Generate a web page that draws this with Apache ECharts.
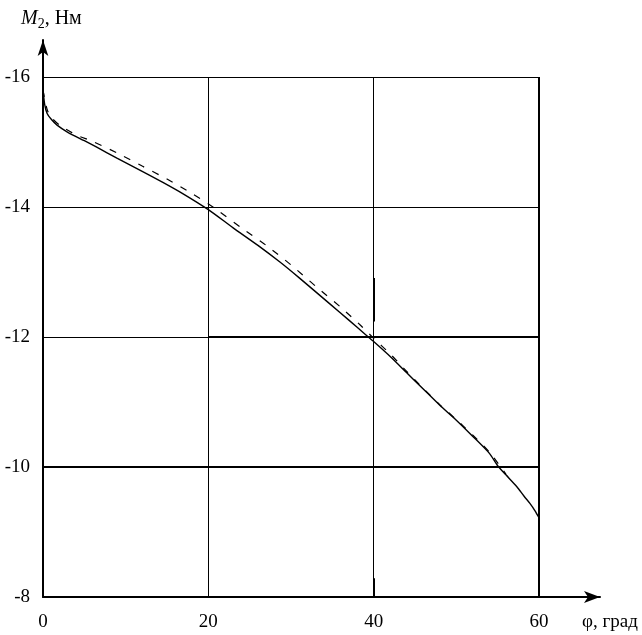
<!DOCTYPE html>
<html>
<head>
<meta charset="utf-8">
<script src="https://cdn.jsdelivr.net/npm/echarts@6/dist/echarts.min.js"></script>
<style>
  html, body { margin: 0; padding: 0; background: #fff; }
  #chart { width: 642px; height: 635px; }
</style>
</head>
<body>
<div id="chart"></div>
<script>
// measured curve (solid)
const solidX = [0, 0.2, 0.5, 1, 1.7, 3, 5, 6.5, 9, 12, 14.5, 17, 20, 23, 26, 28.7, 31, 34.7, 37, 39, 40, 42, 44, 46, 48, 50, 52, 54, 55, 56, 57.3, 58.2, 58.9, 59.5, 60];
const solidY = [-15.82, -15.58, -15.44, -15.35, -15.26, -15.15, -15.02, -14.92, -14.75, -14.55, -14.38, -14.2, -13.96, -13.68, -13.41, -13.15, -12.91, -12.51, -12.26, -12.04, -11.93, -11.7, -11.45, -11.2, -10.95, -10.72, -10.47, -10.21, -10.02, -9.88, -9.7, -9.55, -9.44, -9.33, -9.22];

// calculated curve (dashed)
const dashX = [0, 0.5, 1, 2, 4, 6, 9, 12, 15, 18, 21, 24, 27, 30, 33, 36, 38.5, 40, 42, 44, 46, 48, 50, 52, 54, 56];
const dashY = [-15.8, -15.5, -15.38, -15.26, -15.11, -15.01, -14.83, -14.63, -14.43, -14.21, -13.96, -13.68, -13.41, -13.11, -12.78, -12.46, -12.17, -11.98, -11.74, -11.47, -11.21, -10.96, -10.73, -10.49, -10.23, -9.89];

const xTicks = [0, 20, 40, 60];
const yTicks = [-16, -14, -12, -10, -8];

const font = 'Liberation Serif';

const chart = echarts.init(document.getElementById('chart'));

const thin = { color: '#000', width: 1, type: 'solid' };
const thick = { color: '#000', width: 2, type: 'solid' };
const seg = (x1, y1, x2, y2, style) => [{ coord: [x1, y1], lineStyle: style }, { coord: [x2, y2] }];

const gridLines = [
  seg(0, -16, 60, -16, thin),
  seg(0, -14, 60, -14, thin),
  seg(0, -12, 20, -12, thin),
  seg(20, -12, 60, -12, thick),
  seg(0, -10, 60, -10, thick),
  seg(20, -8, 20, -16, thin),
  seg(40, -8, 40, -16, thin),
  seg(60, -8, 60, -16, thick),
  seg(40, -12.91, 40, -12.24, thick),
  seg(40, -8.29, 40, -8, thick)
];

const option = {
  animation: false,
  backgroundColor: '#fff',
  title: [
    {
      text: '{i|M}{s|2}{n|, Нм}',
      left: 16, top: 2,
      textStyle: {
        fontWeight: 'normal',
        rich: {
          i: { fontFamily: font, fontStyle: 'italic', fontWeight: 'normal', fontSize: 20, color: '#000', lineHeight: 24 },
          s: { fontFamily: font, fontWeight: 'normal', fontSize: 14, color: '#000', lineHeight: 24, padding: [10, 0, 0, 0] },
          n: { fontFamily: font, fontWeight: 'normal', fontSize: 20, color: '#000', lineHeight: 24 }
        }
      }
    },
    {
      text: 'φ, град',
      left: 577, top: 608,
      textStyle: { fontFamily: font, fontSize: 19, fontWeight: 'normal', color: '#000' }
    }
  ],
  grid: { left: 43, right: 42, top: 40, bottom: 38, containLabel: false },
  xAxis: {
    type: 'value',
    min: 0,
    max: 67.38,
    splitLine: { show: false },
    axisTick: { show: false },
    axisLine: {
      onZero: false,
      symbol: ['none', 'arrow'],
      symbolSize: [9, 16],
      lineStyle: { color: '#000', width: 2 }
    },
    axisLabel: {
      customValues: xTicks,
      margin: 16,
      fontFamily: font,
      fontSize: 19,
      color: '#000'
    }
  },
  yAxis: {
    type: 'value',
    inverse: true,
    min: -16.57,
    max: -8,
    splitLine: { show: false },
    axisTick: { show: false },
    axisLine: {
      onZero: false,
      symbol: ['none', 'arrow'],
      symbolSize: [8, 16],
      lineStyle: { color: '#000', width: 2 }
    },
    axisLabel: {
      customValues: yTicks,
      margin: 13,
      fontFamily: font,
      fontSize: 19,
      color: '#000'
    }
  },
  series: [
    {
      name: 'grid',
      type: 'line',
      data: [],
      silent: true,
      markLine: {
        silent: true,
        symbol: 'none',
        label: { show: false },
        animation: false,
        data: gridLines
      }
    },
    {
      name: 'dashed',
      type: 'line',
      data: dashX.map((x, i) => [x, dashY[i]]),
      showSymbol: false,
      smooth: 0.25,
      lineStyle: { color: '#000', width: 1.2, type: [7, 9] }
    },
    {
      name: 'solid',
      type: 'line',
      data: solidX.map((x, i) => [x, solidY[i]]),
      showSymbol: false,
      smooth: 0.25,
      lineStyle: { color: '#000', width: 1.4 }
    }
  ]
};

chart.setOption(option);
</script>
</body>
</html>
